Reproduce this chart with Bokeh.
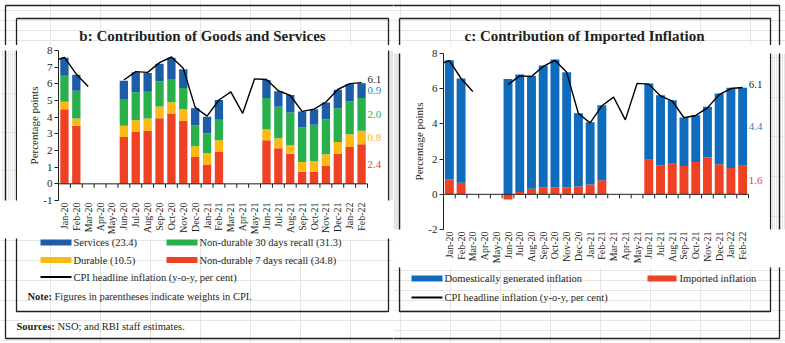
import math
from bokeh.plotting import figure
from bokeh.models import FixedTicker, Label, Range1d
from bokeh.layouts import row, column
from bokeh.embed import file_html
from bokeh.resources import INLINE

nan = float("nan")

# ---------------- data ----------------
months = ["Jan-20", "Feb-20", "Mar-20", "Apr-20", "May-20", "Jun-20", "Jul-20", "Aug-20",
          "Sep-20", "Oct-20", "Nov-20", "Dec-20", "Jan-21", "Feb-21", "Mar-21", "Apr-21",
          "May-21", "Jun-21", "Jul-21", "Aug-21", "Sep-21", "Oct-21", "Nov-21", "Dec-21",
          "Jan-22", "Feb-22"]

cpi_prev_label = "Dec-19"
cpi_prev = 7.35
cpi = [7.59, 6.58, 5.84, nan, nan, 6.23, 6.73, 6.69, 7.27, 7.61, 6.93, 4.59,
       4.06, 5.03, 5.52, 4.23, 6.30, 6.26, 5.59, 5.30, 4.35, 4.48, 4.91, 5.66,
       6.01, 6.07]

# panel b: goods and services (percentage points)
nd7 = [4.48, 3.48, nan, nan, nan, 2.81, 3.14, 3.18, 3.94, 4.22, 3.78, 1.61,
       1.13, 1.91, nan, nan, nan, 2.61, 2.13, 1.81, 0.72, 0.72, 1.07, 1.81,
       2.21, 2.37]
durable = [0.44, 0.44, nan, nan, nan, 0.67, 0.68, 0.74, 0.70, 0.68, 0.70, 0.64,
           0.70, 0.70, nan, nan, nan, 0.67, 0.60, 0.52, 0.59, 0.65, 0.70, 0.70,
           0.76, 0.81]
nd30 = [1.57, 1.67, nan, nan, nan, 1.61, 1.67, 1.61, 1.51, 1.39, 1.27, 1.27,
        1.21, 1.23, nan, nan, nan, 1.87, 1.89, 1.95, 2.07, 2.17, 2.11, 2.03,
        1.97, 1.97]
services = [1.07, 0.96, nan, nan, nan, 1.10, 1.20, 1.12, 1.05, 1.27, 1.12, 1.02,
            0.98, 1.19, nan, nan, nan, 1.08, 0.93, 1.05, 0.96, 0.94, 1.00, 1.11,
            1.05, 0.88]

# panel c: imported inflation (percentage points)
imported = [0.85, 0.66, nan, nan, nan, -0.30, 0.13, 0.32, 0.40, 0.38, 0.38, 0.45,
            0.55, 0.80, nan, nan, nan, 1.97, 1.65, 1.74, 1.61, 1.84, 2.09, 1.71,
            1.50, 1.62]
domestic = [6.77, 5.92, nan, nan, nan, 6.55, 6.68, 6.41, 6.92, 7.28, 6.56, 4.16,
            3.54, 4.26, nan, nan, nan, 4.32, 3.98, 3.61, 2.75, 2.65, 2.88, 4.02,
            4.55, 4.44]

left_series = [("Non-durable 7 days recall (34.8)", nd7, "#ef4123", "#ef4123"),
               ("Durable (10.5)", durable, "#fcb813", "#fcb813"),
               ("Non-durable 30 days recall (31.3)", nd30, "#28b04b", "#28b04b"),
               ("Services (23.4)", services, "#1d5ca6", "#3d7cc4")]
right_series = [("Imported inflation", imported, "#ef4123", "#ef4123"),
                ("Domestically generated inflation", domestic, "#0f6cbd", "#3d78c0")]

SERIF = "Liberation Serif"
INK = "#231f20"

# page-level frames (pixel positions of the boxes)
BOX_XS = [[5, 779, 779, 5, 5], [16, 388, 388, 16, 16], [399, 770, 770, 399, 399]]
BOX_YS = [[5, 5, 338, 338, 5], [18, 18, 311, 311, 18], [18, 18, 311, 311, 18]]

TOP_H = 45
L_BOT = 238   # page y where left chart figure ends
R_BOT = 267   # page y where right chart figure ends


def strip(x0, y0, w, h):
    """A figure whose frame is the whole canvas, in page pixel coordinates."""
    p = figure(width=w, height=h, x_range=Range1d(x0, x0 + w), y_range=Range1d(y0 + h, y0),
               output_backend="svg", toolbar_location=None, title=None,
               x_axis_location=None, y_axis_location=None, min_border=0)
    p.outline_line_color = None
    p.background_fill_color = "white"
    p.border_fill_color = "white"
    p.multi_line(BOX_XS, BOX_YS, line_color=INK, line_width=1.3)
    return p


def lab(p, x, y, s, size="10.5px", color=INK, style="normal", align="left"):
    p.add_layout(Label(x=x, y=y, text=s, text_font=SERIF, text_font_size=size,
                       text_color=color, text_font_style=style, text_align=align,
                       text_baseline="middle"))


def chart(width, height, fl, ft, fb, frame_right_px, unit_px, y0, y1, yticks, label_standoff):
    n = len(months)
    x_end = -0.5 + (frame_right_px) / unit_px
    p = figure(width=width, height=height, x_range=Range1d(-0.5, x_end), y_range=Range1d(y0, y1),
               output_backend="svg", toolbar_location=None, title=None,
               min_border_left=fl, min_border_right=0, min_border_top=ft, min_border_bottom=fb)
    p.outline_line_color = None
    p.grid.visible = False
    p.background_fill_color = "white"
    p.border_fill_color = "white"
    ya = p.yaxis[0]
    ya.ticker = FixedTicker(ticks=yticks, minor_ticks=[])
    ya.major_label_overrides = {t: str(t) for t in yticks}
    ya.major_tick_in = 0
    ya.major_tick_out = 4
    ya.major_tick_line_color = INK
    ya.axis_line_color = INK
    ya.major_label_text_font = SERIF
    ya.major_label_text_font_size = "11px"
    ya.major_label_text_color = INK
    ya.major_label_standoff = 2
    ya.axis_label = "Percentage points"
    ya.axis_label_text_font = SERIF
    ya.axis_label_text_font_style = "normal"
    ya.axis_label_text_font_size = "11px"
    ya.axis_label_text_color = INK
    ya.axis_label_standoff = label_standoff
    xa = p.xaxis[0]
    xa.ticker = FixedTicker(ticks=list(range(n)), minor_ticks=[])
    xa.major_label_overrides = {i: m for i, m in enumerate(months)}
    xa.major_label_orientation = math.pi / 2
    xa.axis_line_color = None
    xa.major_tick_line_color = None
    xa.major_tick_in = 0
    xa.major_tick_out = 0
    xa.minor_tick_in = 0
    xa.minor_tick_out = 0
    xa.major_label_text_font = SERIF
    xa.major_label_text_font_size = "10px"
    xa.major_label_text_color = INK
    xa.major_label_standoff = 2
    return p


def zero_axis(p, y_unit_px):
    n = len(months)
    bnds = [i - 0.5 for i in range(n + 1)]
    tick = 4.0 / y_unit_px
    p.segment(x0=bnds, y0=[0] * len(bnds), x1=bnds, y1=[-tick] * len(bnds),
              line_color=INK, line_width=1)
    p.line([bnds[0], bnds[-1]], [0, 0], line_color=INK, line_width=1)


def stacked(p, series, width):
    n = len(months)
    pos = [0.0] * n
    neg = [0.0] * n
    for name, vals, col, _ in series:
        xs, bots, tops = [], [], []
        for i, v in enumerate(vals):
            if math.isnan(v):
                continue
            if v >= 0:
                bots.append(pos[i]); tops.append(pos[i] + v); pos[i] += v
            else:
                bots.append(neg[i] + v); tops.append(neg[i]); neg[i] += v
            xs.append(i)
        p.vbar(x=xs, bottom=bots, top=tops, width=width, fill_color=col, line_color=None)


def cpi_line(p):
    xs = [-1] + list(range(len(months)))
    ys = [cpi_prev] + cpi
    p.line(xs, ys, line_color="black", line_width=1.4)


def end_labels(p, series):
    last = len(months) - 1
    cum = 0.0
    for name, vals, col, lab_col in series:
        v = vals[last]
        mid = cum + v / 2
        cum += v
        p.add_layout(Label(x=last, y=mid, x_offset=6, text=f"{v:.1f}", text_font=SERIF,
                           text_font_size="11px", text_color=lab_col, text_baseline="middle"))
    p.add_layout(Label(x=last, y=cpi[last], x_offset=6, y_offset=3, text=f"{cpi[last]:.1f}",
                       text_font=SERIF, text_font_size="11px", text_color=INK,
                       text_baseline="middle"))


# ================= left panel (page x 0..393) =================
A1 = strip(0, 0, 393, TOP_H)
lab(A1, 202, 35, "b: Contribution of Goods and Services", size="15px", style="bold", align="center")

B1 = strip(0, TOP_H, 17, L_BOT - TOP_H)
E1 = strip(387, TOP_H, 6, L_BOT - TOP_H)

# chart: page x 17..387 ; frame x 58..387, y 50..200
U1X = 309 / 26.0
U1Y = 150 / 9.0
C1 = chart(370, L_BOT - TOP_H, 41, 50 - TOP_H, L_BOT - 200, 387 - 58, U1X, -1, 8,
           list(range(-1, 9)), 0)
stacked(C1, left_series, 0.7)
zero_axis(C1, U1Y)
cpi_line(C1)
end_labels(C1, left_series)

D1 = strip(0, L_BOT, 393, 343 - L_BOT)
leg1 = [(40, 242, left_series[3]), (166, 242, left_series[2]),
        (40, 259.5, left_series[1]), (166, 259.5, left_series[0])]
for lx, ly, (name, _, col, _) in leg1:
    D1.quad(left=[lx], right=[lx + 31], top=[ly - 3], bottom=[ly + 3], fill_color=col, line_color=None)
    lab(D1, lx + 33, ly, name)
D1.line([40, 71], [276.5, 276.5], line_color="black", line_width=1.8)
lab(D1, 73, 276.5, "CPI headline inflation (y-o-y, per cent)")
lab(D1, 27, 296, "Note:", style="bold")
lab(D1, 54, 296, "Figures in parentheses indicate weights in CPI.")
lab(D1, 16, 325.5, "Sources:", style="bold")
lab(D1, 57, 325.5, "NSO; and RBI staff estimates.")

col1 = column(A1, row(B1, C1, E1), D1)

# ================= right panel (page x 393..785) =================
A2 = strip(393, 0, 392, TOP_H)
lab(A2, 584, 35, "c: Contribution of Imported Inflation", size="15px", style="bold", align="center")

B2 = strip(393, TOP_H, 8, R_BOT - TOP_H)
E2 = strip(769, TOP_H, 16, R_BOT - TOP_H)

# chart: page x 401..769 ; frame x 443..769, y 53..229
U2X = 305 / 26.0
U2Y = 176 / 10.0
C2 = chart(368, R_BOT - TOP_H, 42, 53 - TOP_H, R_BOT - 229, 769 - 443, U2X, -2, 8,
           list(range(-2, 9, 2)), 0)
stacked(C2, right_series, 0.76)
zero_axis(C2, U2Y)
cpi_line(C2)
end_labels(C2, right_series)

D2 = strip(393, R_BOT, 392, 343 - R_BOT)
name, _, col, _ = right_series[1]
D2.quad(left=[411], right=[442], top=[275], bottom=[281], fill_color=col, line_color=None)
lab(D2, 444, 278, name)
name, _, col, _ = right_series[0]
D2.quad(left=[647], right=[676], top=[275], bottom=[281], fill_color=col, line_color=None)
lab(D2, 679, 278, name)
D2.line([411, 442], [297, 297], line_color="black", line_width=1.8)
lab(D2, 444, 297, "CPI headline inflation (y-o-y, per cent)")

col2 = column(A2, row(B2, C2, E2), D2)

layout = row(col1, col2)
open("out.html", "w").write(file_html(layout, INLINE))
